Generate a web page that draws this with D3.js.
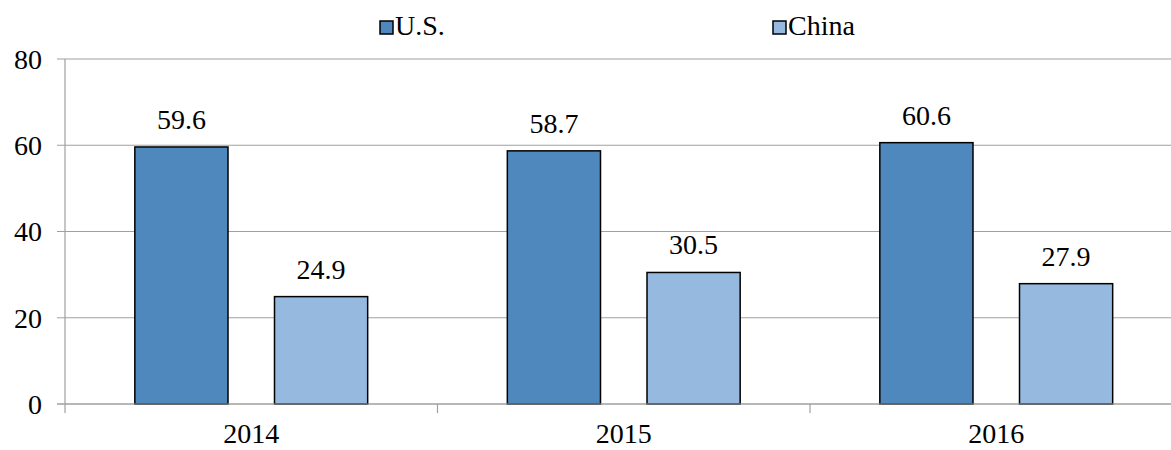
<!DOCTYPE html>
<html>
<head>
<meta charset="utf-8">
<script src="https://cdn.jsdelivr.net/npm/d3@7"></script>
<style>
  body { margin: 0; background: #fff; }
</style>
</head>
<body>
<svg id="chart" width="1171" height="450" font-family="'Liberation Serif', 'Times New Roman', Times, serif"></svg>
<script>
    var years = ["2014", "2015", "2016"];
    var seriesNames = ["U.S.", "China"];
    var usValues = [59.6, 58.7, 60.6];
    var chinaValues = [24.9, 30.5, 27.9];
    var yTicks = [0, 20, 40, 60, 80];

    var colors = {"U.S.": "#4f88bc", "China": "#96b9e0"};

    var data = years.map((y, i) => ({year: y, "U.S.": usValues[i], "China": chinaValues[i]}));

    var svg = d3.select("#chart");

    var xScale = d3.scaleBand().domain(years).range([65, 1182.5]);
    var xInner = d3.scaleBand().domain(seriesNames)
      .range([0, xScale.bandwidth()])
      .paddingInner(0.333)
      .paddingOuter(0.5);
    var yScale = d3.scaleLinear().domain([0, 80]).range([404, 59]);

    // gridlines + y labels
    var grid = svg.append("g");
    grid.selectAll("line")
      .data(yTicks)
      .enter().append("line")
      .attr("x1", 57).attr("x2", 1182)
      .attr("y1", d => yScale(d)).attr("y2", d => yScale(d))
      .attr("stroke", "#a0a0a0")
      .attr("stroke-width", 1.2);

    grid.selectAll("text")
      .data(yTicks)
      .enter().append("text")
      .attr("x", 42)
      .attr("y", d => yScale(d))
      .attr("dy", "0.35em")
      .attr("text-anchor", "end")
      .attr("font-size", 28)
      .text(d => d);

    // y axis line
    svg.append("line")
      .attr("x1", 65).attr("x2", 65)
      .attr("y1", yScale(80)).attr("y2", yScale(0))
      .attr("stroke", "#a0a0a0").attr("stroke-width", 1.2);

    // bars
    var groups = svg.selectAll("g.year")
      .data(data)
      .enter().append("g")
      .attr("class", "year")
      .attr("transform", d => "translate(" + xScale(d.year) + ",0)");

    groups.selectAll("rect")
      .data(d => seriesNames.map(k => ({key: k, value: d[k]})))
      .enter().append("rect")
      .attr("x", d => xInner(d.key))
      .attr("y", d => yScale(d.value))
      .attr("width", xInner.bandwidth())
      .attr("height", d => yScale(0) - yScale(d.value))
      .attr("fill", d => colors[d.key])
      .attr("stroke", "#000")
      .attr("stroke-width", 1.5);

    groups.selectAll("text.val")
      .data(d => seriesNames.map(k => ({key: k, value: d[k]})))
      .enter().append("text")
      .attr("class", "val")
      .attr("x", d => xInner(d.key) + xInner.bandwidth() / 2)
      .attr("y", d => yScale(d.value) - 18)
      .attr("text-anchor", "middle")
      .attr("font-size", 28)
      .text(d => d.value.toFixed(1));

    // x axis line over bar bottoms
    svg.append("line")
      .attr("x1", 57).attr("x2", 1182)
      .attr("y1", yScale(0)).attr("y2", yScale(0))
      .attr("stroke", "#a0a0a0").attr("stroke-width", 1.2);

    // category ticks
    svg.selectAll("line.ctick")
      .data(years.concat(["end"]))
      .enter().append("line")
      .attr("class", "ctick")
      .attr("x1", (d, i) => 65 + i * xScale.step())
      .attr("x2", (d, i) => 65 + i * xScale.step())
      .attr("y1", yScale(0)).attr("y2", yScale(0) + 9)
      .attr("stroke", "#a0a0a0").attr("stroke-width", 1.2);

    svg.selectAll("text.cat")
      .data(years)
      .enter().append("text")
      .attr("class", "cat")
      .attr("x", d => xScale(d) + xScale.bandwidth() / 2)
      .attr("y", 443)
      .attr("text-anchor", "middle")
      .attr("font-size", 28)
      .text(d => d);

    // legend
    var legendX = [380, 773];
    var legend = svg.selectAll("g.legend")
      .data(seriesNames)
      .enter().append("g")
      .attr("class", "legend")
      .attr("transform", (d, i) => "translate(" + legendX[i] + ",21)");

    legend.append("rect")
      .attr("width", 13).attr("height", 13)
      .attr("fill", d => colors[d])
      .attr("stroke", "#000").attr("stroke-width", 1.5);

    legend.append("text")
      .attr("x", 15)
      .attr("y", 14)
      .attr("font-size", 28)
      .text(d => d);
</script>
</body>
</html>
